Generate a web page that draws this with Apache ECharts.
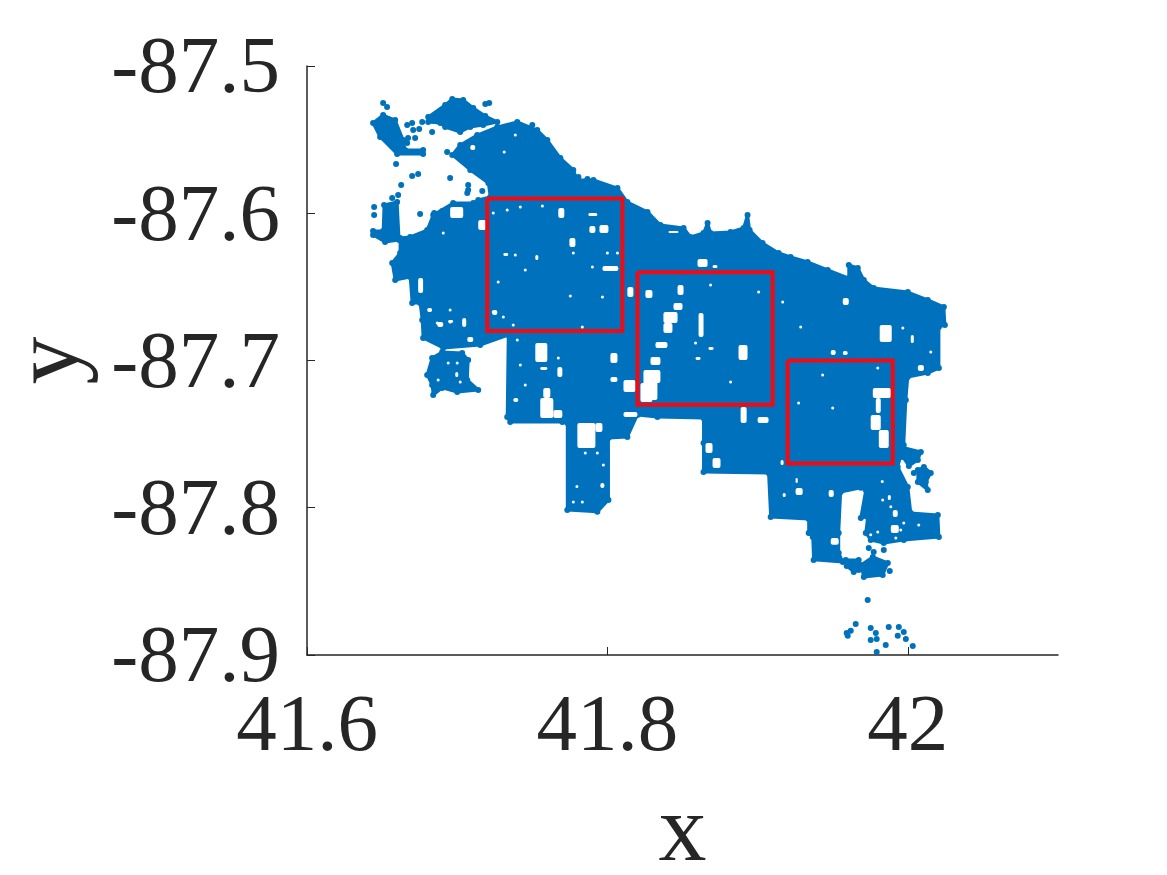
<!DOCTYPE html>
<html>
<head>
<meta charset="utf-8">
<title>x y scatter</title>
<script src="https://cdn.jsdelivr.net/npm/echarts@6/dist/echarts.min.js"></script>
<style>
  html,body{margin:0;padding:0;background:#fff;}
  #main{width:1167px;height:875px;}
</style>
</head>
<body>
<div id="main"></div>
<script>
var xTicks = [41.6, 41.8, 42];
var yTicks = [-87.9, -87.8, -87.7, -87.6, -87.5];

var mainBody = [
  [41.6967,-87.5604],[41.7020,-87.5536],[41.7133,-87.5469],[41.7267,-87.5414],[41.7400,-87.5380],
  [41.7533,-87.5435],[41.7600,-87.5503],[41.7687,-87.5625],[41.7773,-87.5706],[41.7800,-87.5774],
  [41.7907,-87.5774],[41.8067,-87.5829],[41.8133,-87.5924],[41.8267,-87.5991],[41.8353,-87.6080],
  [41.8507,-87.6100],[41.8553,-87.6161],[41.8640,-87.6134],[41.8667,-87.6066],[41.8687,-87.6134],
  [41.8820,-87.6127],[41.8907,-87.6100],[41.8933,-87.6012],[41.8947,-87.6114],[41.9033,-87.6202],
  [41.9140,-87.6270],[41.9220,-87.6297],[41.9333,-87.6331],[41.9467,-87.6385],[41.9607,-87.6440],
  [41.9607,-87.6351],[41.9667,-87.6372],[41.9707,-87.6453],[41.9773,-87.6508],[42.0000,-87.6535],
  [42.0133,-87.6589],[42.0240,-87.6636],[42.0247,-87.6759],[42.0207,-87.6772],[42.0207,-87.7051],
  [42.0133,-87.7085],[42.0000,-87.7112],[41.9987,-87.7268],[41.9973,-87.7574],[41.9933,-87.7723],
  [42.0000,-87.7859],[42.0020,-87.8035],[42.0200,-87.8049],[42.0207,-87.8198],[41.9973,-87.8219],
  [41.9840,-87.8239],[41.9753,-87.8219],[41.9720,-87.8171],[41.9733,-87.8062],[41.9687,-87.8069],
  [41.9720,-87.7879],[41.9687,-87.7865],[41.9553,-87.7893],[41.9540,-87.8171],[41.9540,-87.8307],
  [41.9567,-87.8368],[41.9373,-87.8354],[41.9367,-87.8198],[41.9340,-87.8171],[41.9340,-87.8076],
  [41.9087,-87.8062],[41.9073,-87.7764],[41.8640,-87.7757],[41.8640,-87.7560],[41.8640,-87.7390],
  [41.8333,-87.7383],[41.8200,-87.7370],[41.8133,-87.7519],[41.8007,-87.7526],[41.8007,-87.7947],
  [41.7933,-87.8028],[41.7733,-87.8015],[41.7733,-87.7424],[41.7700,-87.7417],[41.7353,-87.7417],
  [41.7333,-87.7383],[41.7340,-87.6827],[41.7153,-87.6895],[41.6907,-87.6915],[41.6773,-87.6847],
  [41.6767,-87.6725],[41.6753,-87.6609],[41.6700,-87.6609],[41.6687,-87.6433],[41.6587,-87.6453],
  [41.6567,-87.6338],[41.6620,-87.6270],[41.6620,-87.6168],[41.6687,-87.6161],[41.6800,-87.6114],
  [41.6840,-87.6012],[41.6973,-87.5930],[41.7107,-87.5930],[41.7140,-87.5910],[41.7220,-87.5889],
  [41.7207,-87.5794],[41.7087,-87.5706]
];
var leftStrip = [[41.6513,-87.5944],[41.6600,-87.5923],[41.6613,-87.6181],[41.6520,-87.6195],[41.6440,-87.6148],[41.6440,-87.6120],[41.6507,-87.6120]];
var topLobe = [[41.6807,-87.5346],[41.6920,-87.5265],[41.6967,-87.5224],[41.7040,-87.5231],[41.7107,-87.5285],[41.7187,-87.5340],[41.7267,-87.5380],[41.7173,-87.5401],[41.7087,-87.5414],[41.7020,-87.5448],[41.6920,-87.5414],[41.6887,-87.5387],[41.6807,-87.5380]];
var topLeftLobe = [[41.6440,-87.5387],[41.6507,-87.5333],[41.6587,-87.5367],[41.6640,-87.5503],[41.6653,-87.5570],[41.6773,-87.5570],[41.6773,-87.5598],[41.6600,-87.5598],[41.6487,-87.5482]];
var lowerLeftCluster = [[41.6833,-87.6983],[41.6900,-87.6942],[41.7033,-87.6949],[41.7073,-87.6996],[41.7067,-87.7132],[41.7140,-87.7200],[41.7000,-87.7214],[41.6900,-87.7186],[41.6840,-87.7234],[41.6833,-87.7166],[41.6800,-87.7098]];
var rightClusterA = [[41.9953,-87.7587],[42.0087,-87.7621],[42.0067,-87.7675],[42.0007,-87.7716],[41.9967,-87.7655]];
var rightClusterB = [[42.0067,-87.7744],[42.0107,-87.7723],[42.0153,-87.7764],[42.0120,-87.7825],[42.0133,-87.7879],[42.0067,-87.7825]];
var southClusterA = [[41.9587,-87.8354],[41.9673,-87.8354],[41.9673,-87.8422],[41.9640,-87.8436],[41.9593,-87.8395]];
var southClusterB = [[41.9687,-87.8388],[41.9767,-87.8334],[41.9867,-87.8375],[41.9833,-87.8456],[41.9707,-87.8470]];
var clusters = [mainBody, leftStrip, topLobe, topLeftLobe, lowerLeftCluster, rightClusterA, rightClusterB, southClusterA, southClusterB];

// single points standing apart from the cloud
var loosePoints = [
  [41.9733,-87.8626],[41.9653,-87.8789],[41.9620,-87.8836],[41.9593,-87.8850],[41.9600,-87.8870],
  [41.9753,-87.8816],[41.9787,-87.8850],[41.9793,-87.8891],[41.9753,-87.8898],[41.9873,-87.8810],
  [41.9940,-87.8810],[41.9973,-87.8843],[41.9933,-87.8870],[41.9987,-87.8891],[41.9853,-87.8932],
  [42.0033,-87.8939],[41.9793,-87.8980],[41.9740,-87.8273],[41.9773,-87.8300],[41.9840,-87.8287],
  [41.9880,-87.8429],[42.0040,-87.7764],
  [41.6507,-87.5251],[41.6533,-87.5278],[41.6667,-87.5401],[41.6700,-87.5387],[41.6767,-87.5380],
  [41.6707,-87.5435],[41.6747,-87.5428],[41.6833,-87.5448],[41.6720,-87.5489],[41.6673,-87.5489],
  [41.6667,-87.5523],[41.6933,-87.5584],[41.6593,-87.5665],[41.6700,-87.5747],[41.6740,-87.5733],
  [41.6953,-87.5760],[41.6627,-87.5808],[41.7073,-87.5808],[41.7073,-87.5842],[41.7067,-87.5862],
  [41.7167,-87.5849],[41.6607,-87.5876],[41.6567,-87.5896],[41.6447,-87.5957],[41.6447,-87.6012],
  [41.6753,-87.6005],[41.6847,-87.5998],[41.6900,-87.5984],[41.7500,-87.5401],[41.7187,-87.5258],
  [41.7213,-87.5251],[41.7807,-87.5754],[41.7867,-87.5767]
];

// gaps inside the cloud [x0, y0, x1, y1]
var gaps = [
  [41.7673,-87.5964,41.7713,-87.6032],[41.7880,-87.6087,41.7920,-87.6134],[41.7947,-87.6080,41.8007,-87.6134],
  [41.7967,-87.6358,41.8073,-87.6392],[41.7747,-87.6168,41.7787,-87.6229],[41.7307,-87.6270,41.7340,-87.6290],
  [41.7873,-87.5998,41.7933,-87.6019],[41.6953,-87.5958,41.7040,-87.6032],[41.7140,-87.6046,41.7193,-87.6114],
  [41.6740,-87.6440,41.6773,-87.6542],[41.8133,-87.6501,41.8173,-87.6569],[41.7520,-87.6283,41.7540,-87.6317],
  [41.8253,-87.6521,41.8300,-87.6575],[41.7233,-87.6657,41.7267,-87.6691],[41.7087,-87.5536,41.7120,-87.5570],
  [41.6800,-87.6643,41.6833,-87.6670],[41.7033,-87.6711,41.7060,-87.6772],[41.6867,-87.6738,41.6907,-87.6772],
  [41.6940,-87.6725,41.6973,-87.6745],[41.8373,-87.6670,41.8467,-87.6745],[41.8373,-87.6745,41.8433,-87.6813],
  [41.8320,-87.6874,41.8400,-87.6915],[41.8287,-87.6976,41.8353,-87.7030],[41.8240,-87.7064,41.8333,-87.7268],
  [41.8467,-87.6487,41.8507,-87.6555],[41.8440,-87.6609,41.8500,-87.6657],[41.8607,-87.6677,41.8640,-87.6840],
  [41.8873,-87.6894,41.8933,-87.6996],[41.8587,-87.6976,41.8620,-87.6996],[41.8673,-87.6908,41.8707,-87.6928],
  [41.8600,-87.6310,41.8667,-87.6365],[41.8700,-87.6351,41.8733,-87.6372],[41.8407,-87.6120,41.8473,-87.6134],
  [41.9567,-87.6575,41.9607,-87.6623],[41.9813,-87.6759,41.9893,-87.6874],[42.0020,-87.6827,42.0040,-87.6881],
  [42.0067,-87.7030,42.0107,-87.7071],[41.9567,-87.6935,41.9600,-87.6962],[41.9487,-87.6928,41.9520,-87.6962],
  [41.9767,-87.7186,41.9887,-87.7254],[41.9787,-87.7254,41.9820,-87.7356],[41.9753,-87.7370,41.9820,-87.7472],
  [41.9807,-87.7472,41.9873,-87.7594],[41.8887,-87.7316,41.8927,-87.7424],[41.9000,-87.7384,41.9073,-87.7424],
  [41.8107,-87.7132,41.8187,-87.7214],[41.8220,-87.7153,41.8300,-87.7282],[41.8267,-87.7064,41.8353,-87.7153],
  [41.7553,-87.7254,41.7640,-87.7390],[41.7640,-87.7336,41.7700,-87.7390],[41.7573,-87.7186,41.7620,-87.7254],
  [41.7800,-87.7424,41.7920,-87.7594],[41.7920,-87.7424,41.7967,-87.7485],[41.7520,-87.6881,41.7600,-87.7010],
  [41.7667,-87.7044,41.7700,-87.7112],[41.8020,-87.6949,41.8067,-87.7017],[41.8020,-87.7112,41.8067,-87.7146],
  [41.7553,-87.7044,41.7600,-87.7064],[41.7067,-87.6840,41.7107,-87.6874],[41.7953,-87.7832,41.7980,-87.7866],
  [41.7787,-87.7845,41.7807,-87.7866],[41.8107,-87.7349,41.8200,-87.7384],[41.7373,-87.7254,41.7407,-87.7282],
  [41.6987,-87.7078,41.7007,-87.7112],[41.8700,-87.7662,41.8753,-87.7730],[41.8653,-87.7560,41.8700,-87.7628],
  [41.9253,-87.7866,41.9300,-87.7913],[41.9473,-87.7879,41.9507,-87.7927],[41.9153,-87.7675,41.9173,-87.7709],
  [41.9167,-87.7899,41.9187,-87.7927],[41.9487,-87.8205,41.9540,-87.8252],[41.9887,-87.8117,41.9940,-87.8171],
  [41.9900,-87.8015,41.9933,-87.8062],[41.9867,-87.7913,41.9887,-87.7947],[41.9820,-87.7811,41.9840,-87.7832],
  [41.9253,-87.7798,41.9267,-87.7832]
];

// tiny empty spots in the cloud
var specks = [
  [41.6867,-87.6745],[41.6953,-87.6738],[41.7400,-87.6861],[41.7420,-87.7030],[41.7453,-87.7166],
  [41.7673,-87.6983],[41.7973,-87.7709],[41.7853,-87.7628],[41.7833,-87.7961],[41.7773,-87.7961],
  [41.7933,-87.7628],[41.6940,-87.7017],[41.6873,-87.7132],[41.7020,-87.7146],[41.7000,-87.7017],
  [41.9833,-87.7947],[41.9887,-87.7994],[41.9800,-87.8164],[41.9753,-87.8184],[42.0073,-87.8117],
  [41.9973,-87.8103],[41.9953,-87.8151],[41.9920,-87.8205],[41.7313,-87.5584],[41.7387,-87.5469],
  [41.7240,-87.5998],[41.7333,-87.5978],[41.7420,-87.5958],[41.7567,-87.5951],[41.7387,-87.6283],
  [41.7453,-87.6385],[41.7273,-87.6467],[41.7753,-87.6562],[41.7967,-87.6569],[41.7773,-87.6270],
  [41.8067,-87.6270],[41.8000,-87.6270],[41.7900,-87.6365],[41.7240,-87.6670],[41.7307,-87.6704],
  [41.7373,-87.6759],[41.7833,-87.6772],[41.6907,-87.6134],[41.6953,-87.6657],[41.8687,-87.6487],
  [41.9007,-87.6535],[41.9167,-87.6603],[41.9287,-87.6772],[41.9433,-87.7098],[41.9273,-87.7288],
  [41.9500,-87.7323],[41.9800,-87.7051],[41.9967,-87.6779],[42.0153,-87.6942],[41.8587,-87.6881],
  [41.8820,-87.7146]
];

// red boxes [x0, y0, x1, y1]
var boxes = [
  [41.72,-87.59,41.81,-87.68],
  [41.82,-87.64,41.91,-87.73],
  [41.92,-87.70,41.99,-87.77]
];

var blue = '#0072BD';
var axisColor = '#262626';
var labelFont = 'Liberation Serif';

function boxPath(b){
  return [[b[0],b[1]],[b[2],b[1]],[b[2],b[3]],[b[0],b[3]],[b[0],b[1]]];
}

var edgePoints = [];
clusters.forEach(function(c){ edgePoints = edgePoints.concat(c); });

var series = [
  {
    type:'custom',
    coordinateSystem:'cartesian2d',
    silent:true,
    z:2,
    data:clusters.map(function(c,i){ return [i]; }),
    renderItem:function(params,api){
      var pts = clusters[api.value(0)].map(function(p){ return api.coord(p); });
      return {
        type:'polygon',
        shape:{points:pts},
        style:{fill:blue,stroke:blue,lineWidth:3,lineJoin:'round'}
      };
    }
  },
  {
    type:'scatter',
    z:3,
    symbolSize:6,
    itemStyle:{color:blue,opacity:1},
    data:edgePoints.concat(loosePoints)
  },
  {
    type:'custom',
    coordinateSystem:'cartesian2d',
    silent:true,
    z:4,
    data:gaps,
    encode:{x:[0,2],y:[1,3]},
    renderItem:function(params,api){
      var a = api.coord([api.value(0),api.value(1)]);
      var b = api.coord([api.value(2),api.value(3)]);
      return {
        type:'rect',
        shape:{x:a[0],y:a[1],width:b[0]-a[0],height:b[1]-a[1],r:2},
        style:{fill:'#fff'}
      };
    }
  },
  {
    type:'scatter',
    z:4,
    silent:true,
    symbolSize:3,
    itemStyle:{color:'#fff',opacity:1},
    data:specks
  }
];
boxes.forEach(function(b){
  series.push({
    type:'line',
    z:5,
    symbol:'none',
    silent:true,
    lineStyle:{color:'#f00a14',width:4,join:'miter'},
    data:boxPath(b)
  });
});

var myChart = echarts.init(document.getElementById('main'));
var option = {
  animation:false,
  backgroundColor:'#fff',
  grid:{left:307,right:109,top:66,bottom:220,outerBoundsMode:'none'},
  xAxis:{
    type:'value',
    min:41.6,
    max:42.1,
    interval:0.2,
    name:'x',
    nameLocation:'middle',
    nameGap:132,
    nameTextStyle:{fontFamily:labelFont,fontSize:96,color:axisColor},
    splitLine:{show:false},
    axisLine:{show:true,onZero:false,lineStyle:{color:axisColor,width:1.5}},
    axisTick:{show:true,inside:true,length:8,customValues:xTicks,lineStyle:{color:axisColor,width:1}},
    axisLabel:{customValues:xTicks,margin:33,fontFamily:labelFont,fontSize:81,color:axisColor,hideOverlap:false,showMinLabel:true,showMaxLabel:true}
  },
  yAxis:{
    type:'value',
    min:-87.9,
    max:-87.5,
    interval:0.1,
    name:'y',
    nameLocation:'middle',
    nameRotate:90,
    nameGap:198,
    nameTextStyle:{fontFamily:labelFont,fontSize:96,color:axisColor},
    splitLine:{show:false},
    axisLine:{show:true,onZero:false,lineStyle:{color:axisColor,width:1.5}},
    axisTick:{show:true,inside:true,length:8,customValues:yTicks,lineStyle:{color:axisColor,width:1}},
    axisLabel:{
      customValues:yTicks,
      margin:27,
      hideOverlap:false,
      showMinLabel:true,
      showMaxLabel:true,
      formatter:function(v){ return '{t|'+v+'}'; },
      rich:{t:{padding:[10,0,0,0],fontFamily:labelFont,fontSize:81,color:axisColor}}
    }
  },
  series:series
};
myChart.setOption(option);
</script>
</body>
</html>
